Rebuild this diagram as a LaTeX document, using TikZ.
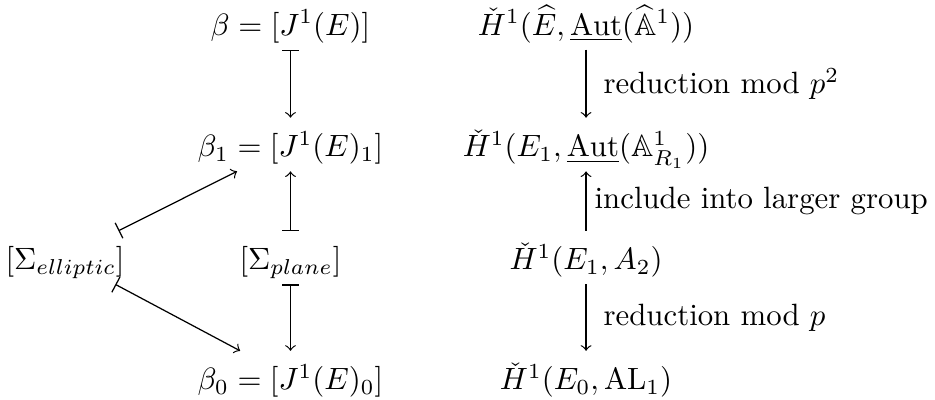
\documentclass[tikz,border=0pt]{standalone}
\usepackage{amsmath,amssymb}
\usetikzlibrary{positioning, calc}
\tikzset{every picture/.append style={line width=0.4pt}}
\tikzset{
    cell/.style={anchor=base, inner xsep=3pt, inner ysep=2pt, text height=10.5pt, text depth=2.5pt},
    lbl/.style={right, inner sep=0pt},
}

\begin{document}
\begin{tikzpicture}
    \useasboundingbox (0,0) rectangle (10.67,-4.555);

    % Classes
    \node[cell] (beta)  at (3.315,-0.40) {$\beta = [J^1(E)]$};
    \node[cell] (betaA) at (3.315,-1.79) {$\beta_1 = [J^1(E)_1]$};
    \node[cell] (plane) at (3.315,-3.08) {$[\Sigma_{plane}]$};
    \node[cell] (betaB) at (3.315,-4.45) {$\beta_0 = [J^1(E)_0]$};
    \node[cell] (ell)   at (0.742,-3.08) {$[\Sigma_{elliptic}]$};

    % Cohomology groups
    \node[cell] (hE)  at (6.688,-0.40) {$\check{H}^1(\widehat{E}, \underline{\mathrm{Aut}}(\widehat{\mathbb{A}}^1))$};
    \node[cell] (hA)  at (6.688,-1.79) {$\check{H}^1(E_1, \underline{\mathrm{Aut}}(\mathbb{A}^1_{R_1}))$};
    \node[cell] (hB)  at (6.688,-3.08) {$\check{H}^1(E_1, A_2)$};
    \node[cell] (hC)  at (6.688,-4.45) {$\check{H}^1(E_0, \mathrm{AL}_1)$};

    % Maps between classes
    \draw[|->] (beta) -- (betaA);
    \draw[|->] (plane) -- (betaA);
    \draw[|->] (plane) -- (betaB);
    \draw[|->] (ell) -- (betaA);
    \draw[|->] (ell) -- (betaB);

    % Maps between groups
    \draw[->] (hE) -- (hA) node[lbl, midway, xshift=5.5pt] {reduction mod $p^2$};
    \draw[->] (hB) -- (hA) node[lbl, midway, xshift=2.6pt] {include into larger group};
    \draw[->] (hB) -- (hC) node[lbl, midway, xshift=5.5pt] {reduction mod $p$};
\end{tikzpicture}
\end{document}
